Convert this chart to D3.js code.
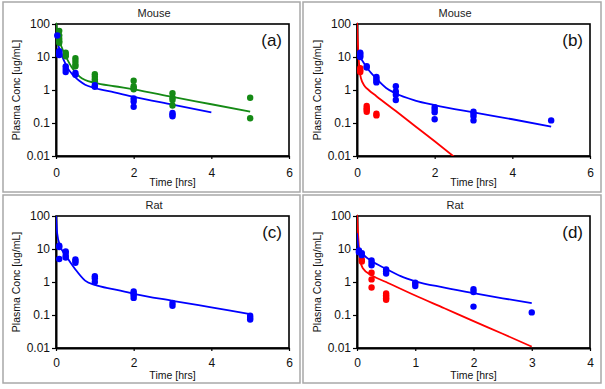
<!DOCTYPE html>
<html>
<head>
<meta charset="utf-8">
<script src="https://cdn.jsdelivr.net/npm/d3@7"></script>
<style>
  body { margin: 0; background: #fff; }
  text { font-family: "Liberation Sans", Arial, sans-serif; }
</style>
</head>
<body>
<div id="chart"></div>
<script>
// ---- data: [time hrs, conc ug/mL] ----
const yTicks = [100, 10, 1, 0.1, 0.01]
const yTickLabels = ['100', '10', '1', '0.1', '0.01']
const xTicks6 = [0, 2, 4, 6]
const xTicks4 = [0, 1, 2, 3, 4]

// (a) mouse
const aGreenPts = [[0.083,62],[0.083,45],[0.083,36],[0.083,30],[0.083,27],
  [0.25,13.5],[0.25,12],[0.25,10.5],[0.5,9.2],[0.5,7.5],[0.5,6],[0.5,5.2],
  [1,3.0],[1,2.5],[1,2.1],[1,1.8],[2,1.9],[2,1.3],[2,1.15],[2,1.05],
  [3,0.8],[3,0.58],[3,0.5],[3,0.34],[5,0.58],[5,0.14]]
const aBluePts = [[0.033,45],[0.083,15],[0.083,13.5],[0.083,12],[0.083,11.5],
  [0.25,5.2],[0.25,4.3],[0.25,3.5],[0.5,3.3],[0.5,2.9],[1,1.4],[1,1.25],
  [2,0.55],[2,0.45],[2,0.31],[3,0.2],[3,0.18],[3,0.16]]
const aGreenFit = [[0,110],[0.05,45],[0.1,28],[0.2,14],[0.3,8],[0.4,5],[0.5,3.5],[0.6,2.6],
  [0.75,2.0],[1,1.65],[1.5,1.3],[2,1.05],[3,0.62],[4,0.37],[5,0.22]]
const aBlueFit = [[0,50],[0.05,25],[0.1,16],[0.2,8],[0.3,4.6],[0.4,3.2],[0.5,2.4],[0.6,1.9],
  [0.75,1.45],[1,1.15],[1.5,0.85],[2,0.62],[3,0.36],[4,0.21]]

// (b) mouse
const bBluePts = [[0.083,13.5],[0.083,12.5],[0.083,11],[0.083,10],[0.25,5.3],[0.25,4.8],
  [0.5,2.5],[0.5,2.2],[0.5,1.9],[0.5,1.7],[1,1.3],[1,0.9],[1,0.72],[1,0.5],
  [2,0.3],[2,0.25],[2,0.21],[2,0.13],[3,0.22],[3,0.19],[3,0.16],[3,0.12],[5,0.12]]
const bRedPts = [[0.083,4.6],[0.083,4.0],[0.083,3.5],[0.25,0.33],[0.25,0.28],[0.25,0.25],
  [0.25,0.22],[0.5,0.19],[0.5,0.17]]
const bBlueFit = [[0,13],[0.1,9],[0.25,4.8],[0.5,2.2],[0.75,1.15],[1,0.78],[1.5,0.48],
  [2,0.35],[3,0.21],[4,0.13],[5,0.078]]
const bRedFit = [[0,110],[0.02,30],[0.05,7],[0.1,2.3],[0.2,1.3],[0.3,1.0],[0.5,0.65],
  [1,0.23],[1.5,0.08],[2,0.028],[2.5,0.0095]]

// (c) rat
const cBluePts = [[0.083,12.5],[0.083,11.5],[0.083,5],[0.25,8.5],[0.25,7.5],[0.25,6.2],[0.25,5.5],
  [0.5,4.8],[0.5,4.3],[0.5,3.8],[1,1.5],[1,1.3],[1,1.0],[2,0.52],[2,0.45],[2,0.4],[2,0.33],
  [3,0.23],[3,0.19],[5,0.095],[5,0.083],[5,0.073]]
const cBlueFit = [[0,100],[0.03,30],[0.1,13],[0.25,6.5],[0.5,2.4],[0.75,1.1],[1,0.82],
  [1.5,0.6],[2,0.44],[3,0.27],[4,0.17],[5,0.107]]

// (d) rat
const dBluePts = [[0.033,9],[0.033,8],[0.083,7.5],[0.083,6.5],[0.25,4.5],[0.25,3.8],[0.25,3.2],
  [0.5,2.4],[0.5,2.1],[0.5,1.8],[1,0.95],[1,0.75],[2,0.6],[2,0.5],[2,0.18],[3,0.12]]
const dRedPts = [[0.083,4.8],[0.083,4.2],[0.25,1.9],[0.25,1.2],[0.25,0.68],
  [0.5,0.45],[0.5,0.4],[0.5,0.36],[0.5,0.32],[0.5,0.29],[1,0.88]]
const dBlueFit = [[0,30],[0.03,10],[0.1,7],[0.25,4.3],[0.5,2.5],[0.75,1.5],[1,1.05],
  [1.5,0.68],[2,0.46],[2.5,0.32],[3,0.23]]
const dRedFit = [[0,110],[0.02,25],[0.05,5],[0.1,2.6],[0.25,1.6],[0.5,1.0],[1,0.39],
  [1.5,0.16],[2,0.065],[2.5,0.027],[3,0.011]]

const BLUE = '#0000ff', RED = '#ff0000', GREEN = '#158a15'

const panels = [
  { id: 'a', title: 'Mouse', dx: 0, dy: 0, xMax: 6, xTicks: xTicks6,
    fits: [[aGreenFit, GREEN], [aBlueFit, BLUE]], pts: [[aGreenPts, GREEN], [aBluePts, BLUE]] },
  { id: 'b', title: 'Mouse', dx: 301, dy: 0, xMax: 6, xTicks: xTicks6,
    fits: [[bRedFit, RED], [bBlueFit, BLUE]], pts: [[bRedPts, RED], [bBluePts, BLUE]] },
  { id: 'c', title: 'Rat', dx: 0, dy: 192, xMax: 6, xTicks: xTicks6,
    fits: [[cBlueFit, BLUE]], pts: [[cBluePts, BLUE]] },
  { id: 'd', title: 'Rat', dx: 301, dy: 192, xMax: 4, xTicks: xTicks4,
    fits: [[dRedFit, RED], [dBlueFit, BLUE]], pts: [[dRedPts, RED], [dBluePts, BLUE]] },
]

const W = 605, H = 389
const svg = d3.select('#chart').append('svg').attr('width', W).attr('height', H)

// plot box inside each panel
const px0 = 56, px1 = 289, py0 = 24, py1 = 156

// gray panel frames
const frames = [[3, 2, 297, 190], [303, 2, 298, 190], [3, 195, 297, 188], [303, 195, 298, 188]]
svg.selectAll('rect.frame').data(frames).join('rect')
  .attr('x', d => d[0]).attr('y', d => d[1]).attr('width', d => d[2]).attr('height', d => d[3])
  .attr('fill', 'none').attr('stroke', '#a8a8a8').attr('stroke-width', 1.5)

for (const p of panels) {
  const bottomRow = p.dy > 0
  const g = svg.append('g').attr('transform', `translate(${p.dx},${p.dy})`)
  const x = d3.scaleLinear().domain([0, p.xMax]).range([px0, px1])
  const y = d3.scaleLog().domain([0.01, 100]).range([py1, py0])

  g.append('clipPath').attr('id', 'clip' + p.id)
    .append('rect').attr('x', px0).attr('y', py0 - 4).attr('width', px1 - px0).attr('height', py1 - py0 + 4)

  // frame
  g.append('rect').attr('x', px0).attr('y', py0).attr('width', px1 - px0).attr('height', py1 - py0)
    .attr('fill', 'none').attr('stroke', '#000').attr('stroke-width', 1.6)

  const yAxis = d3.axisLeft(y).tickValues(yTicks).tickFormat((d, i) => yTickLabels[i])
    .tickSizeInner(4).tickSizeOuter(0).tickPadding(2)
  const xAxis = d3.axisBottom(x).tickValues(p.xTicks).tickFormat(d3.format('d'))
    .tickSizeInner(3).tickSizeOuter(0).tickPadding(bottomRow ? 7 : 9)

  for (const [ax, tr] of [[yAxis, `translate(${px0},0)`], [xAxis, `translate(0,${py1})`]]) {
    const a = g.append('g').attr('transform', tr).call(ax)
    a.select('.domain').attr('stroke', '#000').attr('stroke-width', 2)
    a.selectAll('.tick line').attr('stroke', '#000').attr('stroke-width', 1.2)
    a.selectAll('.tick text').attr('fill', '#111').style('font-size', '12px')
      .style('font-family', '"Liberation Sans", Arial, sans-serif')
  }

  const line = d3.line().x(d => x(d[0])).y(d => y(d[1])).curve(d3.curveMonotoneX)
  const lg = g.append('g').attr('clip-path', `url(#clip${p.id})`)
  for (const [data, col] of p.fits) {
    lg.append('path').datum(data).attr('d', line)
      .attr('fill', 'none').attr('stroke', col).attr('stroke-width', 1.8)
  }
  for (const [data, col] of p.pts) {
    g.append('g').selectAll('circle').data(data).join('circle')
      .attr('cx', d => x(d[0])).attr('cy', d => y(d[1])).attr('r', 3.2)
      .attr('fill', col)
  }

  g.append('text').attr('x', 154).attr('y', 17).attr('text-anchor', 'middle')
    .style('font-size', '11px').attr('fill', '#222').text(p.title)
  g.append('text').attr('x', 282).attr('y', 46).attr('text-anchor', 'end')
    .style('font-size', '17px').attr('fill', '#111').text(`(${p.id})`)
  g.append('text').attr('transform', `translate(20,${(py0 + py1) / 2}) rotate(-90)`)
    .attr('text-anchor', 'middle').style('font-size', '10.5px').attr('fill', '#111')
    .text('Plasma Conc [ug/mL]')
  g.append('text').attr('x', (px0 + px1) / 2).attr('y', bottomRow ? 187 : 186).attr('text-anchor', 'middle')
    .style('font-size', '10.5px').attr('fill', '#111').text('Time [hrs]')
}
</script>
</body>
</html>
